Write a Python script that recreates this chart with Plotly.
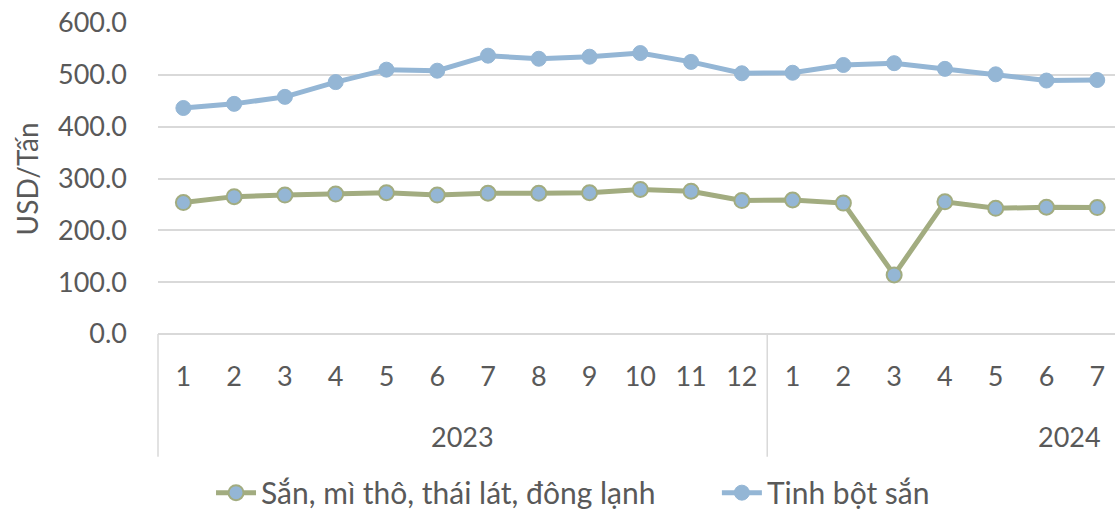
import plotly.graph_objects as go

months = ["1", "2", "3", "4", "5", "6", "7", "8", "9", "10", "11", "12",
          "1", "2", "3", "4", "5", "6", "7"]
years = ["2023"] * 12 + ["2024"] * 7
san_mi = [253.5, 265, 268, 270, 272.5, 268, 271.5, 271.5, 272.5, 279, 275.5, 257.5,
          258.5, 252.5, 114, 255, 242.5, 244.5, 244]
tinh_bot = [436, 444, 457.5, 486, 510, 508, 537, 531, 535, 542, 525, 503,
            504, 519, 522.5, 511.5, 501, 489, 490]
y_ticks = [0, 100, 200, 300, 400, 500, 600]

GREEN = "#A2AC80"
BLUE = "#94B6D5"
TXT = "#595959"
GRID = "#D9D9D9"
FONT = "Lato"
TICK_SIZE = 27

x = list(range(len(months)))
x_max = 18.35

fig = go.Figure()
fig.add_trace(go.Scatter(
    x=x, y=san_mi, name="Sắn, mì thô, thái lát, đông lạnh", mode="lines+markers",
    line=dict(color=GREEN, width=5),
    marker=dict(color=BLUE, size=15, line=dict(color=GREEN, width=2)),
    legend="legend",
))
fig.add_trace(go.Scatter(
    x=x, y=tinh_bot, name="Tinh bột sắn", mode="lines+markers",
    line=dict(color=BLUE, width=5),
    marker=dict(color=BLUE, size=15, line=dict(color=BLUE, width=1)),
    legend="legend2",
))

# year labels
first = {}
last = {}
for i, yv in enumerate(years):
    first.setdefault(yv, i)
    last[yv] = i
annotations = []
year_list = list(dict.fromkeys(years))
for k, yv in enumerate(year_list):
    if k == 0:
        annotations.append(dict(x=(first[yv] + last[yv]) / 2, xref="x", y=-0.331, yref="paper",
                                text=yv, showarrow=False, xanchor="center", yanchor="middle",
                                font=dict(family=FONT, size=TICK_SIZE, color=TXT)))
    else:
        annotations.append(dict(x=last[yv] + 0.12, xref="x", y=-0.331, yref="paper",
                                text=yv, showarrow=False, xanchor="right", yanchor="middle",
                                font=dict(family=FONT, size=TICK_SIZE, color=TXT)))
annotations.append(dict(x=-0.137, xref="paper", y=0.5, yref="paper", text="USD/Tấn",
                        textangle=-90, showarrow=False, xanchor="center", yanchor="middle",
                        font=dict(family=FONT, size=28, color=TXT)))

# separators
span = x_max + 0.5
shapes = []
for bx in [-0.5, last[year_list[0]] + 0.5]:
    px = (bx + 0.5) / span
    shapes.append(dict(type="line", xref="paper", yref="paper", x0=px, x1=px,
                       y0=0, y1=-0.395, line=dict(color=GRID, width=1.5)))

leg_common = dict(orientation="h", xanchor="left", xref="paper",
                  y=0.034, yanchor="middle", yref="container",
                  font=dict(family=FONT, size=30, color=TXT), itemwidth=40,
                  bgcolor="rgba(0,0,0,0)")

fig.update_layout(
    width=1115, height=510,
    margin=dict(l=158, r=0, t=23, b=176),
    paper_bgcolor="white", plot_bgcolor="white",
    font=dict(family=FONT, size=TICK_SIZE, color=TXT),
    showlegend=True,
    legend=dict(x=0.0554, **leg_common),
    legend2=dict(x=0.584, **leg_common),
    annotations=annotations, shapes=shapes,
)
fig.update_xaxes(
    range=[-0.5, x_max], tickvals=x, ticktext=months, showgrid=False,
    zeroline=False, showline=False, ticks="", ticklabelstandoff=24,
    tickfont=dict(family=FONT, size=TICK_SIZE, color=TXT),
)
fig.update_yaxes(
    range=[0, 600], tickvals=y_ticks, ticktext=[f"{v:.1f}" for v in y_ticks],
    showgrid=True, gridcolor=GRID, gridwidth=1.5, zeroline=True, zerolinecolor=GRID,
    zerolinewidth=1.5, showline=False, ticks="", ticklabelstandoff=30,
    tickfont=dict(family=FONT, size=TICK_SIZE, color=TXT),
)

fig.write_html("out.html", config={"displayModeBar": False},
               post_script="document.body.style.margin='0';document.body.style.overflow='hidden';")
